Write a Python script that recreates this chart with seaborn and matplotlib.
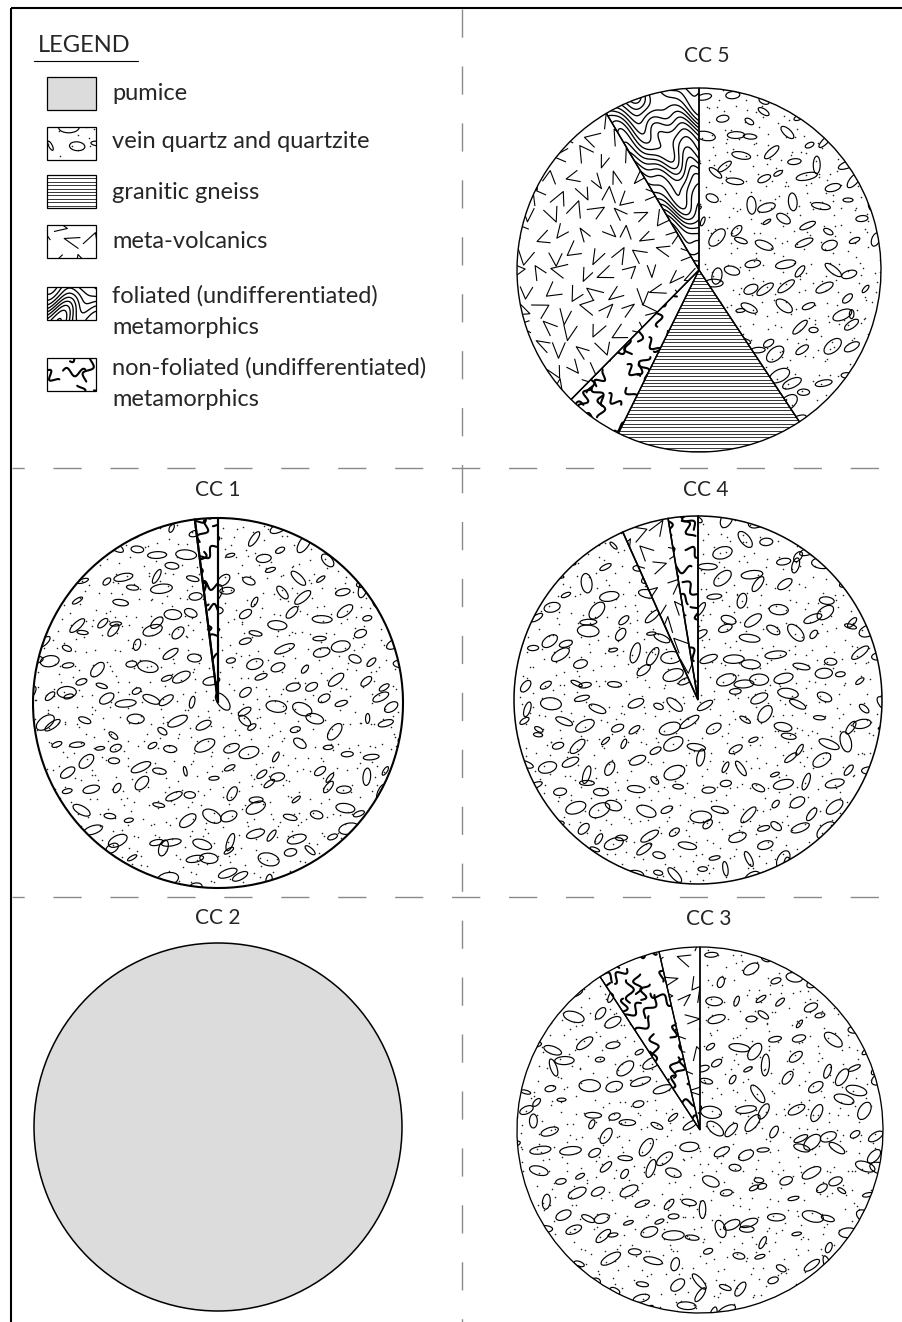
import numpy as np
import matplotlib
matplotlib.use("Agg")
import matplotlib.pyplot as plt
import seaborn as sns
from matplotlib.collections import LineCollection, EllipseCollection
from matplotlib.patches import Rectangle, Wedge

# ---------------------------------------------------------------- data
PUMICE = "pumice"
QUARTZ = "vein quartz and quartzite"
GNEISS = "granitic gneiss"
VOLC = "meta-volcanics"
FOL = "foliated (undifferentiated)\nmetamorphics"
NONFOL = "non-foliated (undifferentiated)\nmetamorphics"

legend_rocks = [PUMICE, QUARTZ, GNEISS, VOLC, FOL, NONFOL]

samples = ["CC 5", "CC 1", "CC 4", "CC 2", "CC 3"]

# clast composition (%), listed clockwise from 12 o'clock
cc5_rocks = [QUARTZ, GNEISS, NONFOL, VOLC, FOL]
cc5_pct = [40.7, 16.6, 5.1, 29.1, 8.5]
cc1_rocks = [QUARTZ, NONFOL]
cc1_pct = [98.0, 2.0]
cc4_rocks = [QUARTZ, VOLC, NONFOL]
cc4_pct = [93.3, 4.1, 2.6]
cc2_rocks = [PUMICE]
cc2_pct = [100.0]
cc3_rocks = [QUARTZ, NONFOL, VOLC]
cc3_pct = [90.8, 5.6, 3.6]

compositions = {
    "CC 5": (cc5_rocks, cc5_pct),
    "CC 1": (cc1_rocks, cc1_pct),
    "CC 4": (cc4_rocks, cc4_pct),
    "CC 2": (cc2_rocks, cc2_pct),
    "CC 3": (cc3_rocks, cc3_pct),
}

# ---------------------------------------------------------------- style
sns.set_theme(style="white")
plt.rcParams["font.family"] = ["Lato", "DejaVu Sans"]
plt.rcParams["lines.scale_dashes"] = False

W, H = 903, 1322
fig = plt.figure(figsize=(W / 100, H / 100), dpi=100)
fig.patch.set_facecolor("white")

# page layer in pixel coordinates
page = fig.add_axes([0, 0, 1, 1], zorder=0)
page.set_xlim(0, W)
page.set_ylim(H, 0)
page.axis("off")


# ---------------------------------------------------------------- textures
def jitter_grid(bounds, step, rng, jit=0.38):
    x0, x1, y0, y1 = bounds
    pts = []
    ys = np.arange(y0 - step, y1 + step, step * 0.87)
    for i, y in enumerate(ys):
        off = (step / 2) if i % 2 else 0.0
        for x in np.arange(x0 - step + off, x1 + step, step):
            pts.append((x + rng.uniform(-jit, jit) * step,
                        y + rng.uniform(-jit, jit) * step))
    return np.array(pts)


def tex_quartz(ax, clip, bounds, u, rng, step=25):
    pts = jitter_grid(bounds, step * u, rng)
    n = len(pts)
    w = rng.uniform(9, 22, n) * u
    h = w * rng.uniform(0.33, 0.6, n)
    ang = rng.normal(18, 32, n)
    ec = EllipseCollection(w, h, ang, units="xy", offsets=pts,
                           offset_transform=ax.transData,
                           facecolors="none", edgecolors="black",
                           linewidths=0.85, zorder=2)
    ax.add_collection(ec)
    ec.set_clip_path(clip)
    dots = jitter_grid(bounds, 13 * u, rng, jit=0.5)
    sc = ax.scatter(dots[:, 0], dots[:, 1], s=1.3, c="#222222",
                    linewidths=0, zorder=2)
    sc.set_clip_path(clip)


def tex_gneiss(ax, clip, bounds, u, rng):
    x0, x1, y0, y1 = bounds
    ys = np.arange(y0, y1, 3.4 * u)
    segs = [[(x0, y), (x1, y)] for y in ys]
    lc = LineCollection(segs, colors="black", linewidths=0.55, zorder=2)
    ax.add_collection(lc)
    lc.set_clip_path(clip)


def tex_volc(ax, clip, bounds, u, rng, step=22):
    pts = jitter_grid(bounds, step * u, rng, jit=0.2)
    segs = []
    for px, py in pts:
        th = rng.uniform(0, 2 * np.pi)
        al = np.deg2rad(rng.uniform(35, 60))
        l1 = rng.uniform(13, 18) * u
        l2 = rng.uniform(13, 18) * u
        a = np.array([l1 * np.cos(th), l1 * np.sin(th)])
        b = np.array([l2 * np.cos(th + al), l2 * np.sin(th + al)])
        p = np.array([px, py]) - (a + b) / 3.0   # centre the mark on its point
        segs.append([p + a, p, p + b])
    lc = LineCollection(segs, colors="black", linewidths=0.8, zorder=2)
    ax.add_collection(lc)
    lc.set_clip_path(clip)


def tex_foliated(ax, clip, bounds, u, rng, spacing=8.5):
    x0, x1, y0, y1 = bounds
    X, Y = np.meshgrid(np.linspace(x0, x1, 400), np.linspace(y0, y1, 400))
    xp, yp = X / u, Y / u
    p = rng.uniform(0, 2 * np.pi, 4)
    Z = (yp + 11 * np.sin(2 * np.pi * xp / 65 + 0.05 * yp + p[0])
         + 5 * np.sin(2 * np.pi * xp / 31 + 0.03 * yp + p[1])
         + 4 * np.sin(2 * np.pi * yp / 47 + xp / 30 + p[2])
         + 2.5 * np.sin(2 * np.pi * (xp + yp) / 37 + p[3]))
    levels = np.arange(Z.min(), Z.max(), spacing)
    cs = ax.contour(X, Y, Z, levels=levels, colors="black",
                    linewidths=0.95, zorder=2)
    cs.set_clip_path(clip)


def tex_nonfol(ax, clip, bounds, u, rng, step=20):
    pts = jitter_grid(bounds, step * u, rng)
    segs = []
    for px, py in pts:
        L = rng.uniform(16, 24)
        t = np.linspace(-0.5, 0.5, 28) * L
        s = 4.0 * np.sin(2 * np.pi * t / (L / 1.3) + rng.uniform(0, 2 * np.pi))
        th = rng.uniform(0, np.pi)
        c, sn = np.cos(th), np.sin(th)
        xs = px + (t * c - s * sn) * u
        ys = py + (t * sn + s * c) * u
        segs.append(np.column_stack([xs, ys]))
    lc = LineCollection(segs, colors="black", linewidths=1.5,
                        capstyle="round", zorder=2)
    ax.add_collection(lc)
    lc.set_clip_path(clip)


texture = {QUARTZ: tex_quartz, GNEISS: tex_gneiss, VOLC: tex_volc,
           FOL: tex_foliated, NONFOL: tex_nonfol}
fill = {PUMICE: "#dcdcdc"}

# ---------------------------------------------------------------- page frame
page.plot([11, 11], [8, H], color="black", lw=1.5, solid_capstyle="butt")
page.plot([11, W], [8, 8], color="black", lw=1.5, solid_capstyle="butt")

dash = (20.3, 20.7)
grey = "#8a8a8a"
page.plot([462, 462], [9, H], color=grey, lw=1.0, linestyle=(0, dash))
page.plot([12, W], [468, 468], color=grey, lw=1.0, linestyle=(11.5, dash))
page.plot([12, W], [897, 897], color=grey, lw=1.0, linestyle=(11.5, dash))

# ---------------------------------------------------------------- legend
page.text(38, 51.5, "LEGEND", fontsize=17, ha="left", va="baseline")
page.plot([34, 138], [61, 61], color="black", lw=0.8)

box_tops = [77, 127, 175, 225, 287, 358]
baselines = [[100], [148], [199], [248], [303, 334], [375, 406]]
swatch_kw = {QUARTZ: dict(step=30), VOLC: dict(step=24),
             FOL: dict(spacing=7), NONFOL: dict(step=22)}
for k, (rock, top, bl) in enumerate(zip(legend_rocks, box_tops, baselines)):
    rect = Rectangle((47, top), 49, 33, facecolor=fill.get(rock, "white"),
                     edgecolor="none", zorder=1)
    page.add_patch(rect)
    if rock in texture:
        texture[rock](page, rect, (47, 96, top, top + 33), 1.0,
                      np.random.default_rng(100 + k), **swatch_kw.get(rock, {}))
    page.add_patch(Rectangle((47, top), 49, 33, fill=False,
                             edgecolor="black", lw=0.9, zorder=3))
    for line, y in zip(rock.split("\n"), bl):
        page.text(112, y, line, fontsize=17, ha="left", va="baseline")

# ---------------------------------------------------------------- pies
centers = {"CC 5": (699, 270, 182), "CC 1": (218, 703, 185),
           "CC 4": (698, 700, 184), "CC 2": (218, 1127, 184),
           "CC 3": (700, 1130, 183)}
titles = {"CC 5": (707, 61.5), "CC 1": (218, 496.5), "CC 4": (706, 496.5),
          "CC 2": (218, 924), "CC 3": (709, 925)}
edge_w = {"CC 5": 1.0, "CC 1": 1.5, "CC 4": 1.1, "CC 2": 1.1, "CC 3": 0.95}

for si, name in enumerate(samples):
    cx, cy, r = centers[name]
    half = 1.05 * r
    ax = fig.add_axes([(cx - half) / W, 1 - (cy + half) / H,
                       2 * half / W, 2 * half / H], zorder=2)
    ax.set_facecolor("none")
    rocks, pct = compositions[name]
    wedges, _ = ax.pie(pct, startangle=90, counterclock=False, radius=1,
                       colors=[fill.get(rk, "white") for rk in rocks],
                       wedgeprops=dict(linewidth=0, edgecolor="none"))
    u = 1.0 / r
    for j, (wd, rk) in enumerate(zip(wedges, rocks)):
        if rk in texture:
            texture[rk](ax, wd, (-1.05, 1.05, -1.05, 1.05), u,
                        np.random.default_rng(10 * si + j))
        ax.add_patch(Wedge(wd.center, wd.r, wd.theta1, wd.theta2, fill=False,
                           edgecolor="black", lw=edge_w[name], zorder=4))
    ax.set_xlim(-1.05, 1.05)
    ax.set_ylim(-1.05, 1.05)
    ax.set_aspect("equal")
    ax.axis("off")
    tx, ty = titles[name]
    page.text(tx, ty, name, fontsize=15, ha="center", va="baseline")

fig.savefig("out.png", dpi=100, facecolor="white")
